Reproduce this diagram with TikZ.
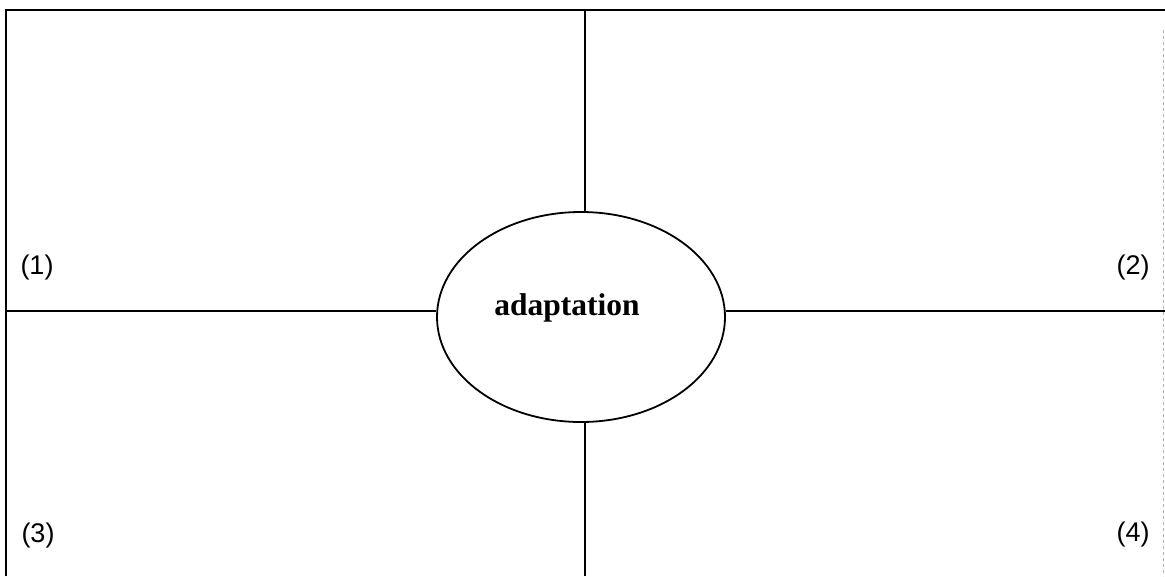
\documentclass[tikz,border=0pt]{standalone}
\usepackage{fontspec}
\setmainfont{Liberation Serif}
\newfontfamily\labfont{Liberation Sans}
\usetikzlibrary{shapes.geometric}
\begin{document}
\begin{tikzpicture}[x=1pt,y=-1pt,
  frame/.style={line width=1.8pt,black},
  quad/.style={font=\labfont\fontsize{27}{31}\selectfont,inner sep=0pt},
  centre/.style={draw,ellipse,line width=1.8pt,minimum width=288pt,minimum height=210pt,inner sep=0pt}]
\useasboundingbox (0,0) rectangle (1165,576);
\coordinate (tl) at (6,10);
\coordinate (tr) at (1165,10);
\coordinate (bl) at (6,576);
\coordinate (vt) at (585,10);
\coordinate (vb) at (585,576);
\coordinate (hl) at (6,311);
\coordinate (hr) at (1165,311);
\node[centre] (e) at (581,317) {};
\node[font=\bfseries\fontsize{31.5}{36}\selectfont,inner sep=0pt,anchor=base] (word) at (567,315) {adaptation};
\draw[frame] (bl) -- (tl) -- (tr);
\draw[gray!60,line width=0.8pt,dashed] (1163.5,30) -- (1163.5,576);
\draw[frame] (vt) -- (vt |- e.north);
\draw[frame] (vb) -- (vb |- e.south);
\draw[frame] (hl) -- (hl -| e.west);
\draw[frame] (hr) -- (hr -| e.east);
\node[quad] (q1) at (37,268) {(1)};
\node[quad] (q2) at (1133,268) {(2)};
\node[quad] (q3) at (38,536) {(3)};
\node[quad] (q4) at (1133,535) {(4)};
\end{tikzpicture}
\end{document}
